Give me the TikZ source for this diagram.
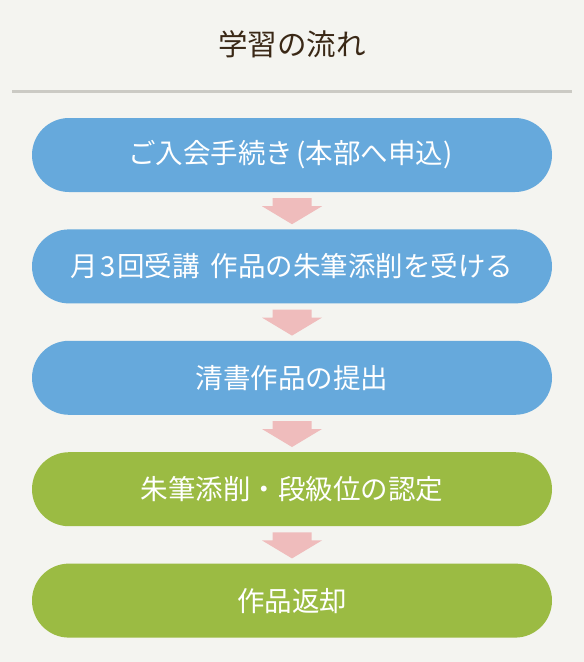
\documentclass[tikz,border=0pt]{standalone}
\usepackage{fontspec}
\setmainfont{Noto Sans CJK JP}
\usepackage{xcolor}
\usepackage{tikz}
\usetikzlibrary{positioning,calc}
\definecolor{flowbg}{RGB}{244, 244, 240}
\definecolor{flowblue}{RGB}{102, 169, 220}
\definecolor{flowgreen}{RGB}{155, 187, 67}
\definecolor{flowpink}{RGB}{239, 188, 188}
\definecolor{flowrule}{RGB}{203, 202, 196}
\definecolor{flowtitle}{RGB}{58, 40, 22}

\tikzset{
  flowbox/.style={rectangle, rounded corners=37pt, minimum width=520pt,
    minimum height=74pt, inner sep=0pt, text=white,
    font=\fontsize{27.5pt}{32pt}\selectfont},
  flowarrow/.style={fill=flowpink},
}

\begin{document}
\begin{tikzpicture}[x=1pt,y=-1pt,node distance=37pt]
                % Background
                \fill[flowbg] (0,0) rectangle (584,662);
                \useasboundingbox (0,0) rectangle (584,662);

                % Title
                \node[text=flowtitle,font=\fontsize{29.5pt}{34pt}\selectfont] (title) at (292,44) {学習の流れ};
                \coordinate (ruleL) at (12,91);
                \coordinate (ruleR) at (572,91);
                \draw[flowrule,line width=3pt] (ruleL) -- (ruleR);

                % Steps
                \node[flowbox,fill=flowblue] (apply) at (292,155) {ご入会手続き\kern3pt(本部へ申込)\kern3pt};
                \node[flowbox,fill=flowblue,below=of apply] (lesson) {月\kern2pt3\kern2pt回受講\hspace{0.4em}作品の朱筆添削を受ける};
                \node[flowbox,fill=flowblue,below=of lesson] (submit) {清書作品の提出};
                \node[flowbox,fill=flowgreen,below=of submit] (grade) {朱筆添削・段級位の認定};
                \node[flowbox,fill=flowgreen,below=of grade] (return) {作品返却};

                % Arrows
                \foreach \a/\b in {apply/lesson,lesson/submit,submit/grade,grade/return}
                  \fill[flowarrow] ($(\a.south)!0.5!(\b.north)$)
                    ++(-19.5,-12.5) -- ++(39,0) -- ++(0,8) -- ++(10.5,0)
                    -- ++(-30,18) -- ++(-30,-18) -- ++(10.5,0) -- cycle;
            \end{tikzpicture}
\end{document}
